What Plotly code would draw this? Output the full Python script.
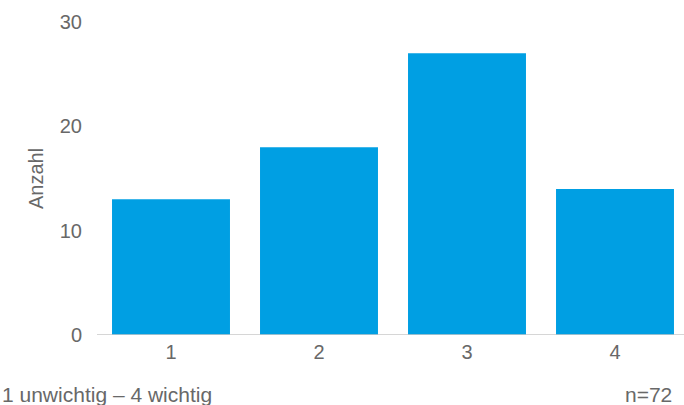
import plotly.graph_objects as go

categories = ["1", "2", "3", "4"]
values = [13, 18, 27, 14]
y_ticks = [0, 10, 20, 30]
y_title = "Anzahl"
note_left = "1 unwichtig – 4 wichtig"
note_right = "n=72"

FONT = "Liberation Sans, Helvetica, Arial, sans-serif"
GREY = "#686868"
FS = 20

W, H = 684, 405
ML, MT, MB = 97, 21.5, 70
PW, PH = W - ML, H - MT - MB

fig = go.Figure(go.Bar(
    x=[1, 2, 3, 4], y=values, marker=dict(color="#009FE3", line=dict(width=0)),
    width=0.797, hoverinfo="skip",
))

fig.update_layout(
    width=W, height=H,
    margin=dict(l=ML, r=0, t=MT, b=MB, pad=0),
    paper_bgcolor="white", plot_bgcolor="white",
    showlegend=False,
    font=dict(family=FONT, size=FS, color=GREY),
    xaxis=dict(
        range=[0.5, 0.5 + PW / 148.0], tickmode="array", tickvals=[1, 2, 3, 4], ticktext=categories,
        showgrid=False, zeroline=False, showline=False, ticks="",
        ticklabelstandoff=3, tickfont=dict(size=FS, color=GREY),
    ),
    yaxis=dict(
        range=[0, 30], tickmode="array", tickvals=y_ticks,
        showgrid=False, zeroline=False, showline=False, ticks="",
        ticklabelstandoff=14, tickfont=dict(size=FS, color=GREY),
        title=dict(text=y_title, font=dict(size=FS, color=GREY), standoff=10),
    ),
    shapes=[dict(type="line", xref="paper", yref="y", x0=0, x1=1, y0=0, y1=0,
                 line=dict(color="#c8c8c8", width=1.5), layer="above")],
    annotations=[
        dict(text=note_left, xref="paper", yref="paper", x=-ML / PW, y=-60 / PH,
             xanchor="left", yanchor="middle", showarrow=False,
             font=dict(size=21, color=GREY)),
        dict(text=note_right, xref="paper", yref="paper", x=(674 - ML) / PW, y=-60 / PH,
             xanchor="right", yanchor="middle", showarrow=False,
             font=dict(size=21, color=GREY)),
    ],
)

fig.write_html("out.html", config={"displayModeBar": False},
               post_script="document.body.style.margin='0';")
